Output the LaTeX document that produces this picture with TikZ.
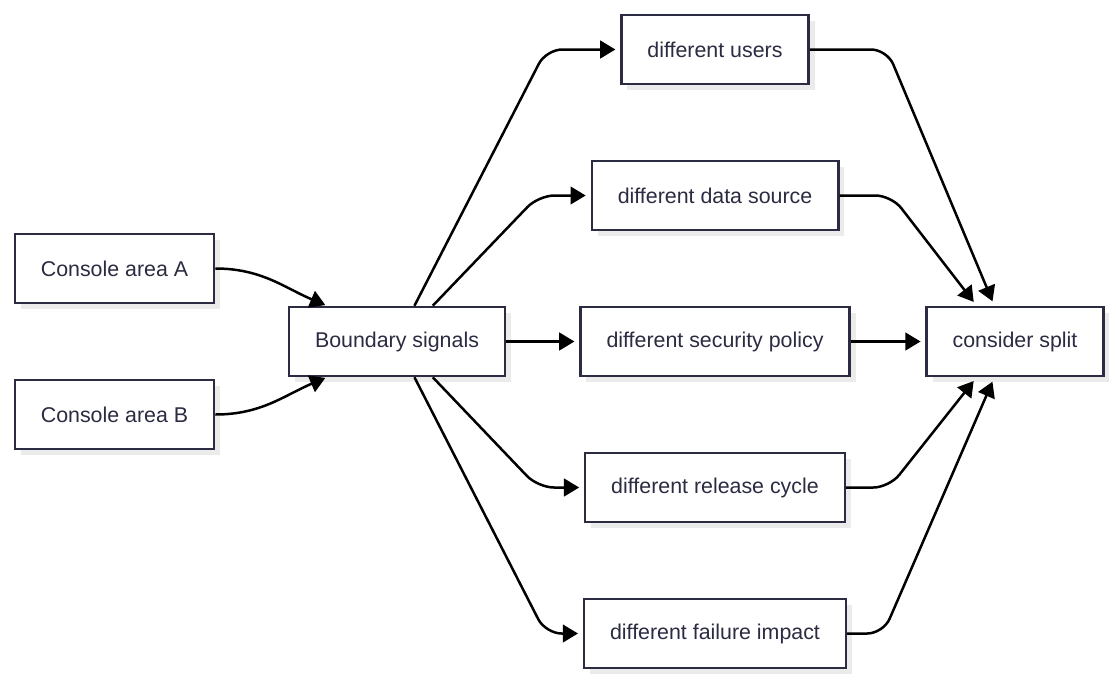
\documentclass[tikz,border=0pt]{standalone}
\usepackage{fontspec}
\setmainfont{Liberation Sans}
\usetikzlibrary{arrows.meta, shadows}
\definecolor{ink}{HTML}{2B2B42}
\definecolor{shade}{HTML}{EBEBEB}

\tikzset{
    box/.style={rectangle, draw=ink, line width=0.0625cm, fill=white, text=ink,
                minimum height=1.725cm, inner xsep=0.65cm,
                font=\fontsize{15.2}{18}\selectfont,
                drop shadow={shadow xshift=0.15cm, shadow yshift=-0.15cm,
                             fill=shade, opacity=1}},
    flow/.style={draw=black, line width=0.0625cm, rounded corners=0.4cm,
                 shorten >=0.12cm,
                 -{Triangle[length=0.38cm, width=0.44cm]}}
}

\begin{document}
\begin{tikzpicture}[x=0.025cm, y=-0.025cm]
    \useasboundingbox (0,0) rectangle (1116,684);

    % left side
    \node[box] (ca) at (114.5,268.5) {Console area A};
    \node[box] (cb) at (114.5,414.5) {Console area B};
    \node[box] (bs) at (397,341.5) {Boundary signals};

    % signals
    \node[box] (us) at (715,49.5)  {different users};
    \node[box] (ds) at (715,195.5) {different data source};
    \node[box] (sec) at (715,341.5) {different security policy};
    \node[box] (rc) at (715,487.5) {different release cycle};
    \node[box] (fi) at (715,633.5) {different failure impact};

    \node[box] (sp) at (1015,341.5) {consider split};

    \draw[flow, shorten >=0.04cm] (ca.east) to[out=0, in=157] (bs.153);
    \draw[flow, shorten >=0.04cm] (cb.east) to[out=0, in=203] (bs.207);

    \draw[flow] (bs.64) -- ([xshift=-1.85cm]us.west) -- (us.west);
    \draw[flow] (bs.45) -- ([xshift=-1.3cm]ds.west) -- (ds.west);
    \draw[flow] (bs.east) -- (sec.west);
    \draw[flow] (bs.-45) -- ([xshift=-1.15cm]rc.west) -- (rc.west);
    \draw[flow] (bs.-64) -- ([xshift=-0.93cm]fi.west) -- (fi.west);

    \draw[flow] (us.east) -- ([xshift=1.93cm]us.east) -- (sp.120);
    \draw[flow] (ds.east) -- ([xshift=1.3cm]ds.east) -- (sp.137);
    \draw[flow] (sec.east) -- (sp.west);
    \draw[flow] (rc.east) -- ([xshift=1.08cm]rc.east) -- (sp.223);
    \draw[flow] (fi.east) -- ([xshift=0.9cm]fi.east) -- (sp.240);
\end{tikzpicture}
\end{document}
